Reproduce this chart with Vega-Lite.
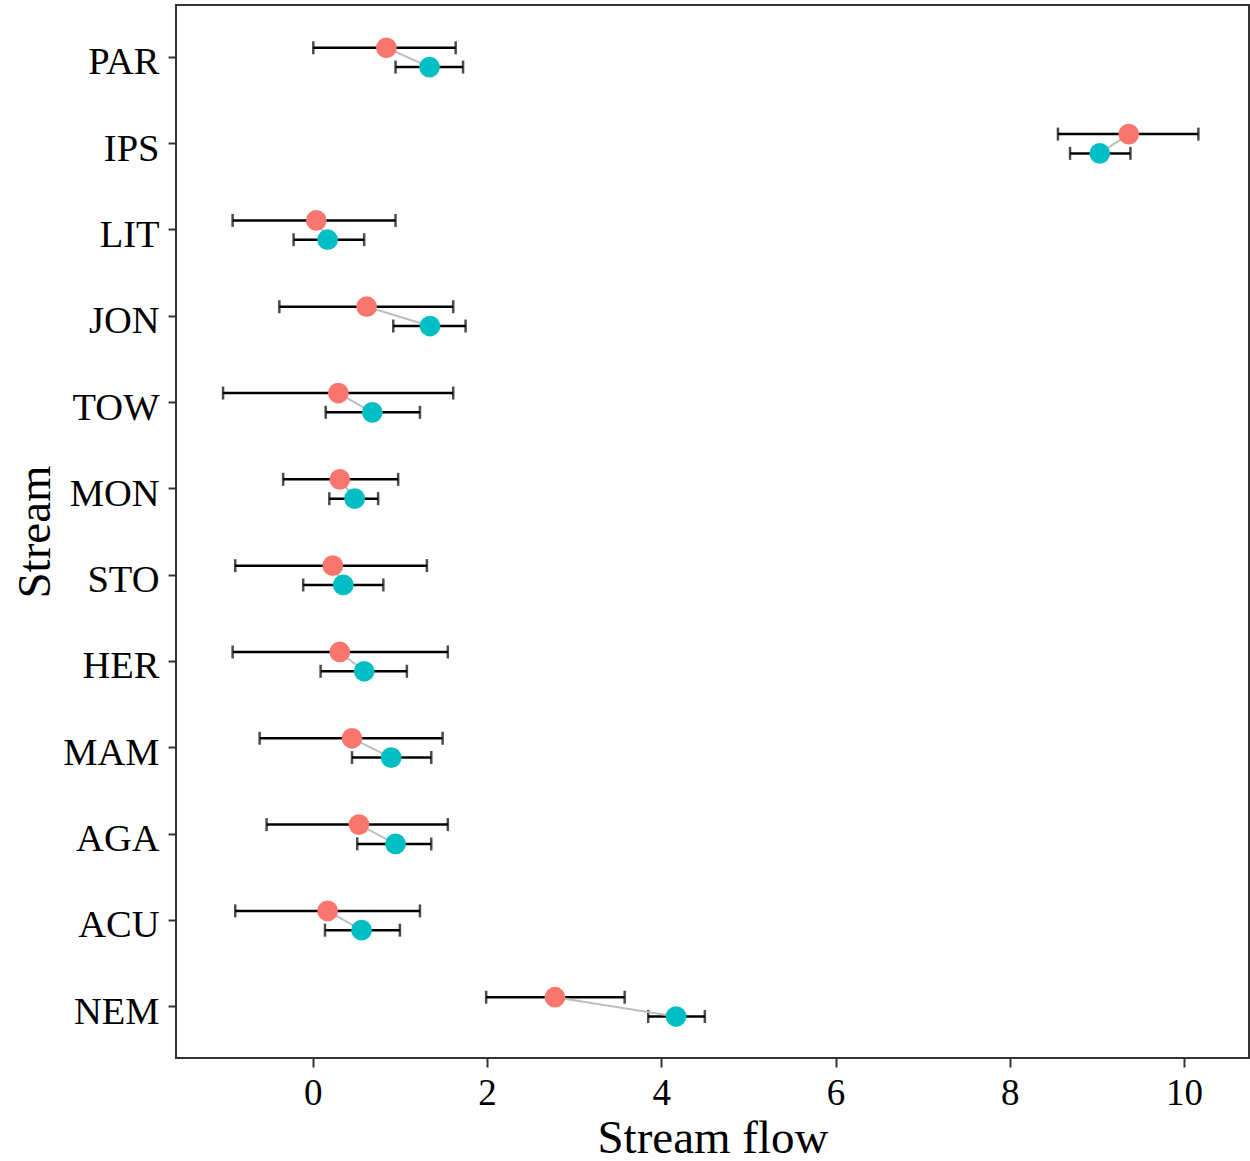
{
  "$schema": "https://vega.github.io/schema/vega-lite/v6.json",
  "autosize": {"type": "none"},
  "padding": {"left": 176, "top": 5, "right": 1, "bottom": 103},
  "width": 1073,
  "height": 1053,
  "background": "white",
  "config": {
    "view": {"stroke": "#333333", "strokeWidth": 2},
    "axis": {
      "labelFont": "Liberation Serif",
      "titleFont": "Liberation Serif",
      "labelFontSize": 37,
      "titleFontSize": 47,
      "titleFontWeight": "normal",
      "labelColor": "#000000",
      "titleColor": "#000000",
      "tickColor": "#333333",
      "tickWidth": 2,
      "domain": false,
      "grid": false
    }
  },
  "data": {
    "values": [
      {"stream": "PAR", "period": "1", "mean": 0.845, "lo": 0.006, "hi": 1.64},
      {"stream": "PAR", "period": "2", "mean": 1.34, "lo": 0.95, "hi": 1.725},
      {"stream": "IPS", "period": "1", "mean": 9.366, "lo": 8.553, "hi": 10.165},
      {"stream": "IPS", "period": "2", "mean": 9.033, "lo": 8.692, "hi": 9.385},
      {"stream": "LIT", "period": "1", "mean": 0.04, "lo": -0.92, "hi": 0.95},
      {"stream": "LIT", "period": "2", "mean": 0.17, "lo": -0.22, "hi": 0.59},
      {"stream": "JON", "period": "1", "mean": 0.618, "lo": -0.384, "hi": 1.612},
      {"stream": "JON", "period": "2", "mean": 1.345, "lo": 0.924, "hi": 1.754},
      {"stream": "TOW", "period": "1", "mean": 0.293, "lo": -1.03, "hi": 1.612},
      {"stream": "TOW", "period": "2", "mean": 0.683, "lo": 0.148, "hi": 1.23},
      {"stream": "MON", "period": "1", "mean": 0.31, "lo": -0.34, "hi": 0.98},
      {"stream": "MON", "period": "2", "mean": 0.48, "lo": 0.19, "hi": 0.75},
      {"stream": "STO", "period": "1", "mean": 0.23, "lo": -0.89, "hi": 1.31},
      {"stream": "STO", "period": "2", "mean": 0.35, "lo": -0.11, "hi": 0.81},
      {"stream": "HER", "period": "1", "mean": 0.31, "lo": -0.92, "hi": 1.55},
      {"stream": "HER", "period": "2", "mean": 0.59, "lo": 0.09, "hi": 1.08},
      {"stream": "MAM", "period": "1", "mean": 0.45, "lo": -0.61, "hi": 1.49},
      {"stream": "MAM", "period": "2", "mean": 0.9, "lo": 0.45, "hi": 1.36},
      {"stream": "AGA", "period": "1", "mean": 0.53, "lo": -0.53, "hi": 1.55},
      {"stream": "AGA", "period": "2", "mean": 0.95, "lo": 0.51, "hi": 1.36},
      {"stream": "ACU", "period": "1", "mean": 0.17, "lo": -0.89, "hi": 1.23},
      {"stream": "ACU", "period": "2", "mean": 0.56, "lo": 0.14, "hi": 1.0},
      {"stream": "NEM", "period": "1", "mean": 2.78, "lo": 1.99, "hi": 3.58},
      {"stream": "NEM", "period": "2", "mean": 4.17, "lo": 3.85, "hi": 4.5}
    ]
  },
  "encoding": {
    "y": {
      "field": "stream",
      "type": "nominal",
      "sort": ["PAR", "IPS", "LIT", "JON", "TOW", "MON", "STO", "HER", "MAM", "AGA", "ACU", "NEM"],
      "scale": {"type": "point", "padding": 0.6},
      "axis": {"title": "Stream", "tickSize": 8, "labelPadding": 9, "labelOffset": 5, "labelFontSize": 38.5, "titlePadding": 3}
    },
    "yOffset": {
      "field": "period",
      "type": "nominal",
      "scale": {"type": "point", "range": [-9, 10.3], "padding": 0}
    }
  },
  "layer": [
    {
      "mark": {"type": "rule", "color": "#000000", "strokeWidth": 2.5},
      "encoding": {
        "x": {
          "field": "lo",
          "type": "quantitative",
          "scale": {"domain": [-1.57, 10.746], "nice": false, "zero": false},
          "axis": {"title": "Stream flow", "values": [0, 2, 4, 6, 8, 10], "format": "d", "tickSize": 9, "labelPadding": 8, "titlePadding": 4}
        },
        "x2": {"field": "hi"}
      }
    },
    {
      "mark": {"type": "tick", "color": "#000000", "orient": "vertical", "size": 13, "thickness": 2.5},
      "encoding": {"x": {"field": "lo", "type": "quantitative"}}
    },
    {
      "mark": {"type": "tick", "color": "#000000", "orient": "vertical", "size": 13, "thickness": 2.5},
      "encoding": {"x": {"field": "hi", "type": "quantitative"}}
    },
    {
      "mark": {"type": "line", "color": "#BEBEBE", "strokeWidth": 2},
      "encoding": {
        "x": {"field": "mean", "type": "quantitative"},
        "detail": {"field": "stream"},
        "order": {"field": "period"}
      }
    },
    {
      "mark": {"type": "point", "filled": true, "opacity": 1, "size": 430},
      "encoding": {
        "x": {"field": "mean", "type": "quantitative"},
        "color": {
          "field": "period",
          "type": "nominal",
          "scale": {"range": ["#F8766D", "#00BFC4"]},
          "legend": null
        }
      }
    }
  ]
}
